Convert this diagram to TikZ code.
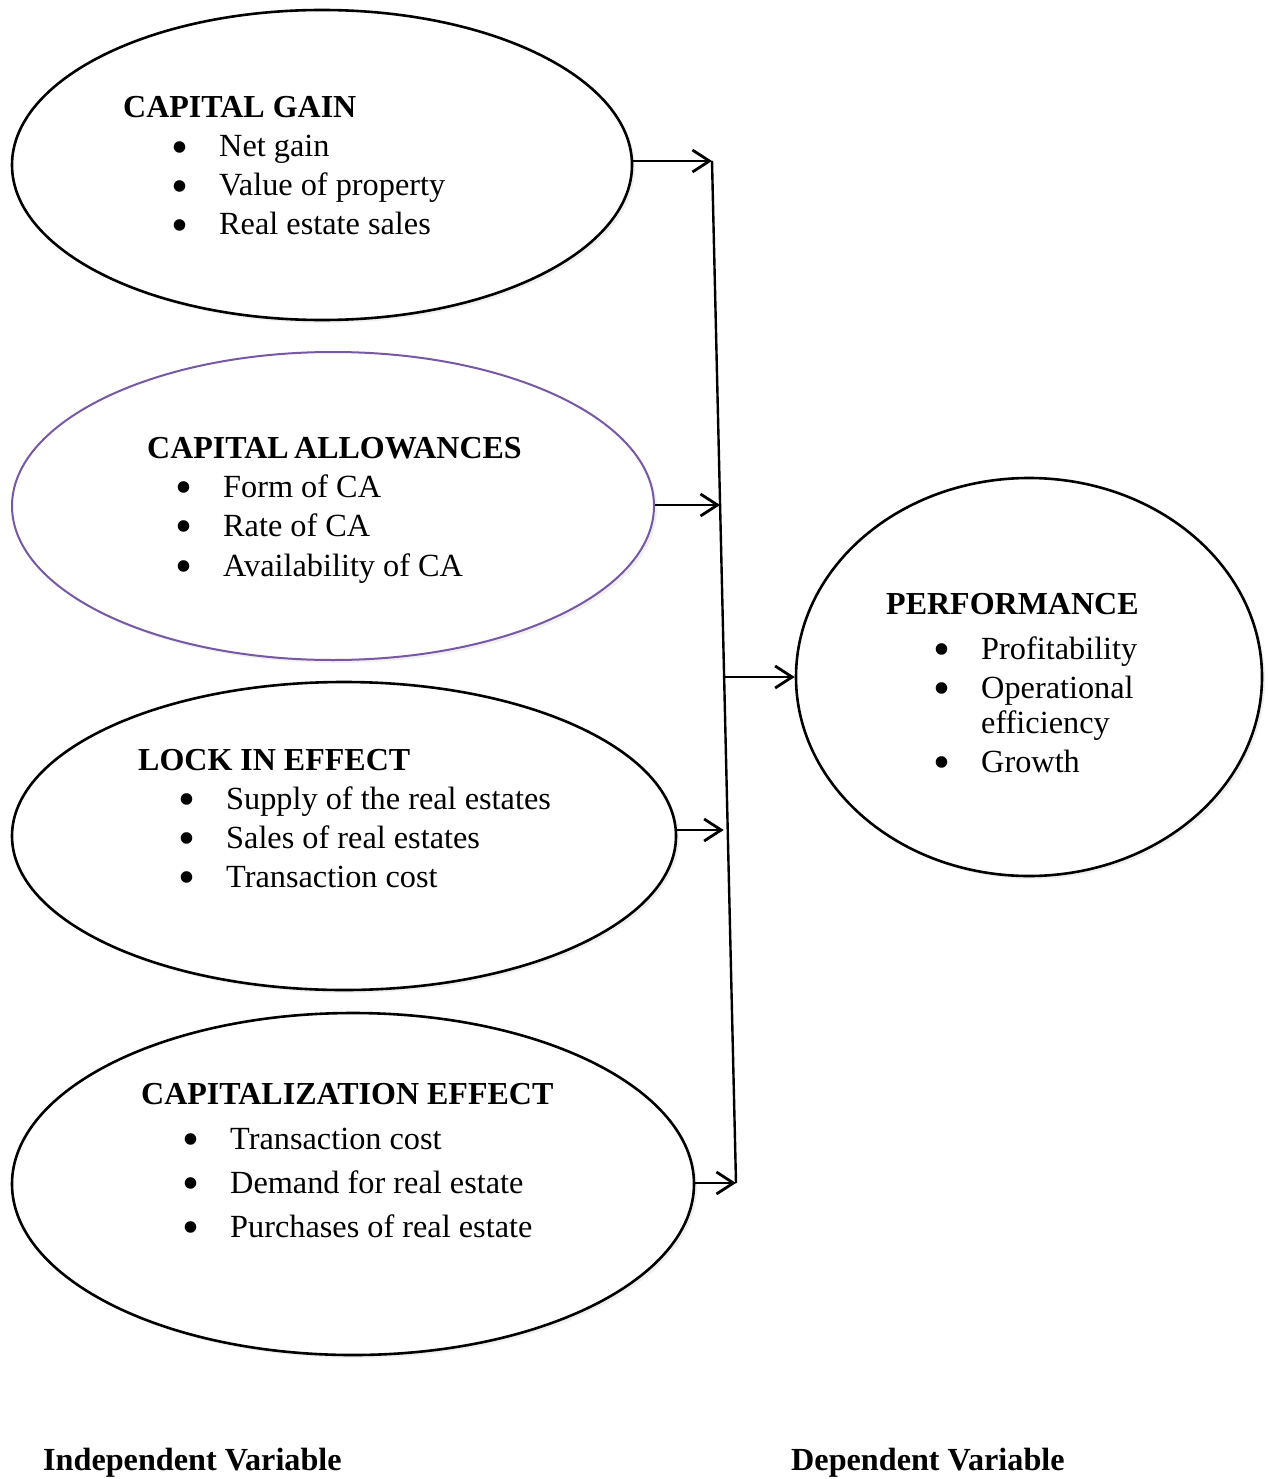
\documentclass[tikz,border=0pt]{standalone}
\usepackage{fontspec}
\setmainfont{Liberation Serif}
\usetikzlibrary{shapes.geometric,arrows.meta,calc,shadows}
\definecolor{capurple}{RGB}{118,88,165}
\begin{document}
\begin{tikzpicture}[x=1pt,y=-1pt,
  oval/.style={draw=black,line width=2.6pt,ellipse,inner sep=0pt,fill=white,
    drop shadow={opacity=0.12,shadow xshift=3pt,shadow yshift=-3pt}},
  head/.style={anchor=base west,inner sep=0pt,font=\fontsize{32}{39}\selectfont\bfseries},
  itm/.style={anchor=base west,inner sep=0pt,font=\fontsize{32.3}{39}\selectfont},
  lab/.style={anchor=base west,inner sep=0pt,font=\fontsize{32.2}{39}\selectfont\bfseries},
  arr/.style={line width=2.8pt,-{Straight Barb[length=17pt,width=22pt,line width=2.8pt]}},
  trunk/.style={line width=2.4pt}]
\useasboundingbox (0,0) rectangle (1267,1479);
\newcommand{\bul}{\makebox[48pt][l]{\smash{\raisebox{-6.5pt}{\scalebox{1.5}{\textbullet}}}}}

% ellipses
\node[oval,minimum width=620pt,minimum height=310pt] (cg) at (322,165) {};
\node[oval,draw=capurple,line width=2pt,minimum width=642pt,minimum height=308pt] (ca) at (333,506) {};
\node[oval,minimum width=664pt,minimum height=308pt] (le) at (344,836) {};
\node[oval,minimum width=682pt,minimum height=342pt] (ce) at (353,1184) {};
\node[oval,minimum width=466pt,minimum height=398pt] (pf) at (1029,677) {};

% capital gain
\node[head] (cgh) at (123,118) {CAPITAL GAIN};
\node[itm] (cg1) at (171,157) {\bul Net gain};
\node[itm] (cg2) at (171,196) {\bul Value of property};
\node[itm] (cg3) at (171,235) {\bul Real estate sales};

% capital allowances
\node[head] (cah) at (147,458) {CAPITAL\,ALLOWANCES};
\node[itm] (ca1) at (175,497) {\bul Form of CA};
\node[itm] (ca2) at (175,536) {\bul Rate of CA};
\node[itm] (ca3) at (175,576) {\bul Availability of CA};

% lock in effect
\node[head] (leh) at (138,770) {LOCK IN EFFECT};
\node[itm] (le1) at (178,809) {\bul Supply of the real estates};
\node[itm] (le2) at (178,848) {\bul Sales of real estates};
\node[itm] (le3) at (178,887) {\bul Transaction cost};

% capitalization effect
\node[head] (ceh) at (141,1104) {CAPITALIZATION EFFECT};
\node[itm] (ce1) at (182,1149) {\bul Transaction cost};
\node[itm] (ce2) at (182,1193) {\bul Demand for real estate};
\node[itm] (ce3) at (182,1237) {\bul Purchases of real estate};

% performance
\node[head] (pfh) at (886,614) {PERFORMANCE};
\node[itm] (pf1) at (933,659) {\bul Profitability};
\node[itm] (pf2) at (933,698) {\bul Operational};
\node[itm] (pf2b) at (981,733) {efficiency};
\node[itm] (pf3) at (933,772) {\bul Growth};

% bottom labels
\node[lab] (iv) at (43,1470) {Independent Variable};
\node[lab] (dv) at (791,1470) {Dependent Variable};

% connectors
\coordinate (top) at (712,161);
\coordinate (bot) at (736,1183);
\coordinate (j2) at ($(top)!0.3366!(bot)$);
\coordinate (j3) at ($(top)!0.5049!(bot)$);
\coordinate (j4) at ($(top)!0.6546!(bot)$);
\draw[trunk] (top) -- (bot);
\draw[arr] (cg.east |- top) -- (top);
\draw[arr] (ca.east |- j2) -- (j2);
\draw[arr,shorten >=4pt] (le.east |- j4) -- (j4);
\draw[arr] (ce.east |- bot) -- (bot);
\draw[arr] (j3) -- (pf.west |- j3);
\end{tikzpicture}
\end{document}
